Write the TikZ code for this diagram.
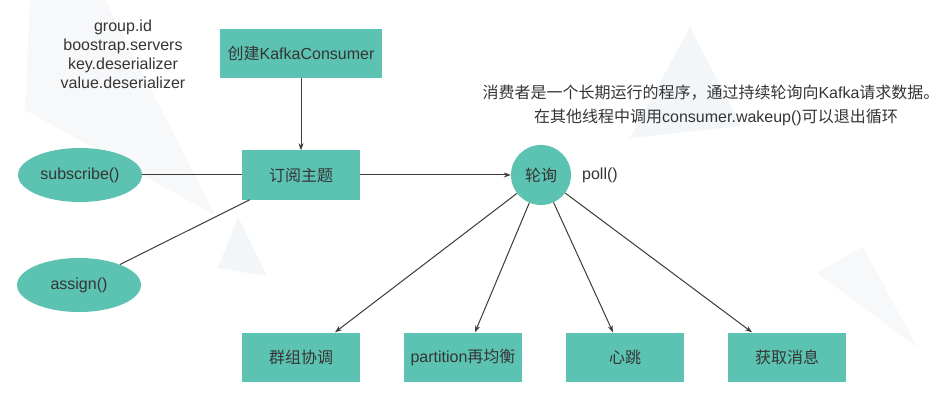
\documentclass[tikz,border=0pt]{standalone}
\usepackage{fontspec}
\setmainfont{Liberation Sans}
\newfontfamily\cjkf{Noto Sans CJK SC}
\newcommand\cj[1]{{\cjkf #1}}
\usetikzlibrary{arrows.meta,calc,shapes.geometric}
\definecolor{teal1}{HTML}{5CC2B1}
\definecolor{txt}{HTML}{353535}
\definecolor{ln}{HTML}{3C3C34}
\definecolor{bggray}{HTML}{F7F8F9}
\definecolor{bgblue}{HTML}{F2F6F9}
\begin{document}
\begin{tikzpicture}[x=1pt,y=-1pt,
  font=\fontsize{16}{19}\selectfont, text=txt,
  box/.style={fill=teal1, minimum width=118pt, minimum height=49pt, inner sep=0pt},
  ell/.style={ellipse, fill=teal1, minimum width=124pt, minimum height=54pt, inner sep=0pt},
  con/.style={draw=ln, line width=1pt},
  arr/.style={con, -{Stealth[length=7pt,width=5pt]}}]
\useasboundingbox (0,0) rectangle (940,409);
\fill[white] (0,0) rectangle (940,409);
% faint background triangles
\fill[bggray] (30,0) -- (105,0) -- (215,215) -- (25,110) -- cycle;
\fill[bgblue] (690,27) -- (630,138) -- (741,126) -- cycle;
\fill[bgblue] (238,217) -- (218,268) -- (267,276) -- cycle;
\fill[bggray] (817,273) -- (863,247) -- (917,347) -- cycle;
% nodes
\node[box, minimum width=162pt] (create) at (301,53.5) {\cj{创建}KafkaConsumer};
\node[box] (sub) at (301,175) {\cj{订阅主题}};
\node[ell] (subscribe) at (80,175) {subscribe()};
\node[ell] (assign) at (79,285) {assign()};
\node[circle, fill=teal1, minimum size=60pt, inner sep=0pt] (poll) at (541,175) {\cj{轮询}};
\node[anchor=west, inner sep=0pt] (polltxt) at (582,175) {poll()};
\node[align=center] (params) at (123,54.5) {group.id\\boostrap.servers\\key.deserializer\\value.deserializer};
\node[inner sep=0pt] (note1) at (711,93) {\cj{消费者是一个长期运行的程序，通过持续轮询向}Kafka\cj{请求数据。}};
\node[inner sep=0pt] (note2) at (716,117) {\cj{在其他线程中调用}consumer.wakeup()\cj{可以退出循环}};
\node[box] (g1) at (301,357) {\cj{群组协调}};
\node[box] (g2) at (463,357) {partition\cj{再均衡}};
\node[box] (g3) at (625,357) {\cj{心跳}};
\node[box] (g4) at (787,357) {\cj{获取消息}};
% connectors
\draw[arr] (create) -- (sub);
\draw[arr] (sub) -- (poll);
\draw[con] (subscribe) -- (sub);
\coordinate (aend) at ($(sub.south west)+(8,0)$);
\draw[con] (assign) -- (aend);
\coordinate (t1) at ($(g1.north)+(34,0)$);
\coordinate (t2) at ($(g2.north)+(12,0)$);
\coordinate (t3) at ($(g3.north)+(-12,0)$);
\coordinate (t4) at ($(g4.north)+(-35,0)$);
\draw[arr] (poll) -- (t1);
\draw[arr] (poll) -- (t2);
\draw[arr] (poll) -- (t3);
\draw[arr] (poll) -- (t4);
\end{tikzpicture}
\end{document}
